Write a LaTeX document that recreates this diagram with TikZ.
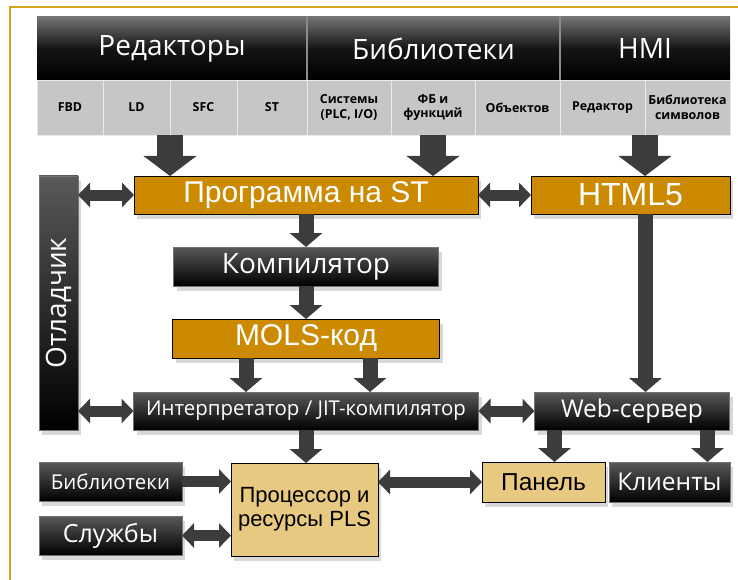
\documentclass[tikz,border=0pt]{standalone}
\usepackage{fontspec}
\setmainfont{Liberation Sans}
\newfontfamily\segfont{Open Sans}
\usepackage{xcolor}
\definecolor{frameGold}{HTML}{D9A21E}
\definecolor{progGold}{HTML}{CB8A00}
\definecolor{paleGold}{HTML}{E8C982}
\definecolor{cellGray}{HTML}{C6C6C6}
\definecolor{arrowGray}{HTML}{3C3C3C}
\usepackage{tikz}
\usetikzlibrary{arrows.meta,positioning,shadows}

\begin{document}
\begin{tikzpicture}[
  x=1pt,y=-1pt,
  inner sep=0pt,outer sep=0pt,
  grp/.style={top color=black!55,bottom color=black,middle color=black!92,
              text=white,font=\segfont\fontsize{28}{30}\selectfont,
              minimum height=63pt,anchor=north west},
  cell/.style={fill=cellGray,draw=black!8,align=center,
               font=\segfont\bfseries\fontsize{12.4}{14.5}\selectfont,
               minimum height=55pt},
  blk/.style={top color=black!65,bottom color=black,draw=black!55,text=white,
              font=\segfont\fontsize{24.5}{26}\selectfont,minimum height=39pt,
              drop shadow={opacity=.3,shadow xshift=3pt,shadow yshift=-5pt}},
  gold/.style={fill=progGold,draw=black,thick,text=white,
               font=\fontsize{30}{32}\selectfont,minimum height=38pt,
               drop shadow={opacity=.3,shadow xshift=3pt,shadow yshift=-5pt}},
  pale/.style={fill=paleGold,draw=black,thick,text=black,align=center,
               font=\fontsize{22}{24}\selectfont,
               drop shadow={opacity=.3,shadow xshift=3pt,shadow yshift=-5pt}},
  bigdown/.style={arrowGray,line width=26pt,-{Triangle[length=20pt,width=52pt]}},
  down/.style={arrowGray,line width=15pt,-{Triangle[length=14pt,width=32pt]}},
  fwd/.style={arrowGray,line width=11pt,-{Triangle[length=12pt,width=24pt]}},
  dual/.style={arrowGray,line width=11pt,
               {Triangle[length=12pt,width=24pt]}-{Triangle[length=12pt,width=24pt]}}
]
\useasboundingbox (0,0) rectangle (738,580);
\draw[frameGold,line width=2pt] (10,580) -- (10,7) -- (738,7);

% header: groups and their cells
\node[grp,minimum width=270pt] (hEd) at (37,17) {Редакторы};
\node[grp,minimum width=253pt,right=0pt of hEd] (hLib) {Библиотеки};
\node[grp,minimum width=170pt,right=0pt of hLib] (hHmi) {HMI};
\draw[black!45,line width=1.5pt] (hEd.north east) -- (hEd.south east)
  (hLib.north east) -- (hLib.south east);

\node[cell,minimum width=66pt,below right=0pt and 0pt of hEd.south west] (cFbd) {FBD};
\node[cell,minimum width=67pt,right=0pt of cFbd] (cLd) {LD};
\node[cell,minimum width=67pt,right=0pt of cLd] (cSfc) {SFC};
\node[cell,minimum width=70pt,right=0pt of cSfc] (cSt) {ST};
\node[cell,minimum width=84pt,right=0pt of cSt] (cSys) {Системы\\(PLC, I/O)};
\node[cell,minimum width=84pt,right=0pt of cSys] (cFb) {ФБ и\\функций};
\node[cell,minimum width=85pt,right=0pt of cFb] (cObj) {Объектов};
\node[cell,minimum width=85pt,right=0pt of cObj] (cEdit) {Редактор};
\node[cell,minimum width=85pt,right=0pt of cEdit] (cSym) {Библиотека\\символов};

% program chain
\node[gold,minimum width=344pt,anchor=north west] (prog) at (134,176) {Программа на ST};
\node[gold,minimum width=199pt,right=53pt of prog,font=\fontsize{32}{34}\selectfont] (html) {HTML5};
\node[blk,minimum width=265pt,below=33pt of prog,font=\segfont\fontsize{28}{30}\selectfont] (comp) {Компилятор};
\node[gold,minimum width=267pt,minimum height=39pt,below=33pt of comp] (mols) {MOLS-код};
\node[blk,minimum width=345pt,minimum height=38pt,below=34pt of mols,font=\segfont\fontsize{20.4}{22}\selectfont] (interp) {Интерпретатор / JIT-компилятор};
\node[blk,minimum width=195pt,minimum height=38pt,right=56pt of interp] (web) {Web-сервер};
\node[blk,rotate=90,minimum width=254pt,font=\segfont\fontsize{28}{30}\selectfont] (dbg) at (58.5,303) {Отладчик};

% runtime
\node[blk,minimum width=143pt,anchor=north west,font=\segfont\fontsize{20.5}{22}\selectfont] (libs) at (39,462) {Библиотеки};
\node[blk,minimum width=143pt,below=15pt of libs,font=\segfont\fontsize{25}{27}\selectfont] (serv) {Службы};
\node[pale,minimum width=147pt,minimum height=93pt,anchor=north west] (cpu) at (231,463) {Процессор и\\ресурсы PLS};
\node[pale,minimum width=123pt,minimum height=40pt,anchor=north west,font=\fontsize{24.5}{26}\selectfont] (panel) at (482,462) {Панель};
\node[blk,minimum width=121pt,minimum height=40pt,right=4pt of panel] (clients) {Клиенты};

\draw[bigdown] (cLd.south east) -- (cLd.south east |- prog.north);
\draw[bigdown] (cFb.south) -- (cFb.south |- prog.north);
\draw[bigdown] (cEdit.south east) -- (cEdit.south east |- html.north);
\draw[down] (prog.south) -- (prog.south |- comp.north);
\draw[down] (comp.south) -- (comp.south |- mols.north);
\draw[down] ([xshift=-60pt]mols.south) -- ([xshift=-60pt]mols.south |- interp.north);
\draw[down] ([xshift=64pt]mols.south) -- ([xshift=64pt]mols.south |- interp.north);
\draw[down] ([xshift=15pt]html.south) -- ([xshift=15pt]html.south |- web.north);
\draw[down] (interp.south) -- (interp.south |- cpu.north);
\draw[down] ([xshift=20pt]web.south west) -- ([xshift=20pt]web.south west |- panel.north);
\draw[down] ([xshift=-22pt]web.south east) -- ([xshift=-22pt]web.south east |- clients.north);
\draw[dual] (dbg.south |- prog) -- (prog.west);
\draw[dual] (prog.east) -- (html.west);
\draw[dual] (dbg.south |- interp) -- (interp.west);
\draw[dual] (interp.east) -- (web.west);
\draw[fwd] (libs.east) -- (libs.east -| cpu.west);
\draw[dual] (serv.east) -- (serv.east -| cpu.west);
\draw[dual] (panel.west -| cpu.east) -- (panel.west);
\end{tikzpicture}
\end{document}
